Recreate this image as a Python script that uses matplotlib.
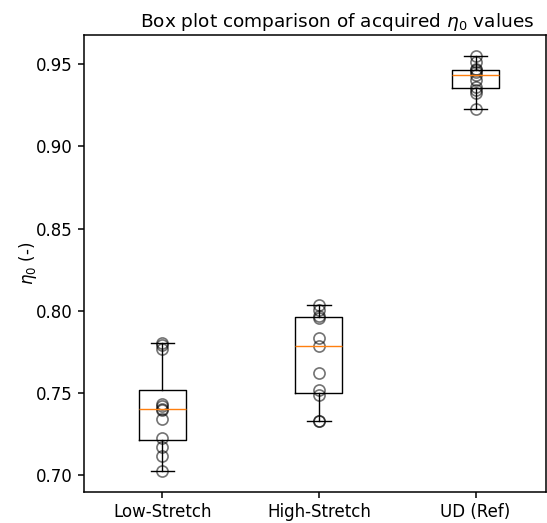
import numpy as np
import matplotlib
matplotlib.use("Agg")
import matplotlib.pyplot as plt

# acquired eta_0 values per laminate type
labels = ["Low-Stretch", "High-Stretch", "UD (Ref)"]
low_stretch = [0.7025, 0.7117, 0.7172, 0.7226, 0.7342, 0.7398,
               0.7406, 0.7420, 0.7435, 0.7770, 0.7790, 0.7805]
high_stretch = [0.7330, 0.7330, 0.7488, 0.7518, 0.7621, 0.7786,
                0.7834, 0.7955, 0.7970, 0.8005, 0.8035]
ud_ref = [0.9228, 0.9324, 0.9345, 0.9360, 0.9405, 0.9436,
          0.9450, 0.9462, 0.9470, 0.9510, 0.9550]

data = [low_stretch, high_stretch, ud_ref]

plt.rcParams["font.size"] = 12
plt.rcParams["lines.linewidth"] = 1.3
fig = plt.figure(figsize=(5.47, 5.23), dpi=100)
ax = fig.add_axes([84 / 547, 31 / 523, 462 / 547, 457 / 523])

ax.boxplot(data, labels=labels)
for i, vals in enumerate(data, start=1):
    ax.plot(np.full(len(vals), i), vals, "o", ms=8, mfc="none", mec="k",
            mew=1.2, alpha=0.55)

ax.set_xlim(0.5, 3.45)
ax.tick_params(labelsize=12, width=1.1, length=4.5)
for s in ax.spines.values():
    s.set_linewidth(1.1)
ax.set_ylabel(r"$\eta_0$ (-)", fontsize=12, labelpad=-2)
ax.set_title(r"Box plot comparison of acquired $\eta_0$ values", fontsize=13.3,
             x=0.548)

fig.savefig("out.png", dpi=100)
